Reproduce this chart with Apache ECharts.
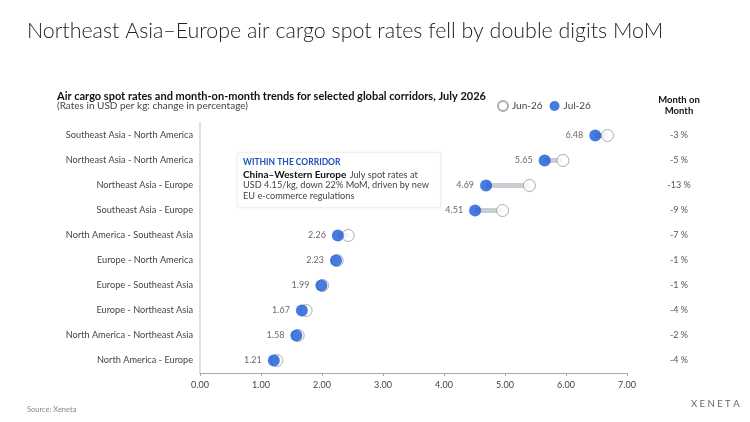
<!DOCTYPE html>
<html><head><meta charset="utf-8">
<script src="https://cdn.jsdelivr.net/npm/echarts@6/dist/echarts.min.js"></script>
<style>html,body{margin:0;padding:0;background:#fff}#c{width:750px;height:422px}</style>
</head><body><div id="c"></div>
<script>
const categories = ["Southeast Asia - North America","Northeast Asia - North America","Northeast Asia - Europe","Southeast Asia - Europe","North America - Southeast Asia","Europe - North America","Europe - Southeast Asia","Europe - Northeast Asia","North America - Northeast Asia","North America - Europe"];
const jun26 = [6.68, 5.95, 5.40, 4.96, 2.43, 2.25, 2.01, 1.74, 1.61, 1.26];
const jul26 = [6.48, 5.65, 4.69, 4.51, 2.26, 2.23, 1.99, 1.67, 1.58, 1.21];
const momLabels = ["-3 %","-5 %","-13 %","-9 %","-7 %","-1 %","-1 %","-4 %","-2 %","-4 %"];
const xTicks = [0,1,2,3,4,5,6,7];

const FONT = "Lato";
const BLUE = "#1a5ad8";
const chart = echarts.init(document.getElementById('c'), null, {renderer:'canvas'});
chart.setOption({
  backgroundColor:'#fff',
  textStyle:{fontFamily:FONT},
  animation:false,
  title:[
    {text:"Northeast Asia\u2013Europe air cargo spot rates fell by double digits MoM", left:27, top:21, padding:0,
     textStyle:{fontFamily:FONT, fontWeight:300, fontSize:21.4, color:'#222'}},
    {text:"Air cargo spot rates and month-on-month trends for selected global corridors, July 2026", left:57, top:91, padding:0,
     textStyle:{fontFamily:FONT, fontWeight:'bold', fontSize:11, color:'#111'}},
    {text:"(Rates in USD per kg: change in percentage)", left:57, top:101, padding:0,
     textStyle:{fontFamily:FONT, fontWeight:'normal', fontSize:10, color:'#444'}},
    {text:"Month on\nMonth", left:679, top:94, padding:0, textAlign:'center',
     textStyle:{fontFamily:FONT, fontWeight:'bold', fontSize:9.5, color:'#111', lineHeight:11, align:'center'}},
    {text:"Source: Xeneta", left:27, top:406, padding:0,
     textStyle:{fontFamily:FONT, fontWeight:'normal', fontSize:7.5, color:'#888'}},
    {text:"X E N E T A", left:691, top:399, padding:0,
     textStyle:{fontFamily:FONT, fontWeight:'normal', fontSize:9.5, color:'#666'}}
  ],
  legend:{
    left:497, top:100, padding:0, itemWidth:10, itemHeight:10, itemGap:7,
    icon:'circle',
    textStyle:{fontFamily:FONT, fontSize:10, color:'#444', padding:[0,0,0,-1]},
    data:[{name:'Jun-26'},{name:'Jul-26'}]
  },
  grid:{left:200, right:123, top:123, bottom:49},
  xAxis:{type:'value', min:0, max:7, interval:1,
    axisLine:{show:true, lineStyle:{color:'#aaa', width:1}},
    axisTick:{show:true, length:3, lineStyle:{color:'#aaa'}},
    splitLine:{show:false},
    axisLabel:{formatter:v=>v.toFixed(2), color:'#444', fontSize:9, margin:8}
  },
  yAxis:[
    {type:'category', data:categories, inverse:true,
     axisLine:{show:true, lineStyle:{color:'#e0e0e0', width:2}},
     axisTick:{show:false},
     axisLabel:{color:'#444', fontSize:9.2, margin:7}
    },
    {type:'category', data:momLabels, inverse:true, position:'right',
     axisLine:{show:false}, axisTick:{show:false},
     axisLabel:{color:'#555', fontSize:9, margin:52, align:'center'}
    }
  ],
  graphic:[
    {type:'rect', left:237, top:152, shape:{width:203, height:55},
     style:{fill:'#fff', stroke:'#f0f0f0', lineWidth:1, shadowBlur:4, shadowColor:'rgba(0,0,0,0.05)'}, z:10},
    {type:'text', left:243, top:158, z:11,
     style:{text:'WITHIN THE CORRIDOR', fill:'#1f4fb8', font:'bold 8.5px '+FONT}},
    {type:'text', left:243, top:169, z:11,
     style:{rich:{b:{fontWeight:'bold', fontSize:10, fill:'#111', fontFamily:FONT}, n:{fontSize:9.2, fill:'#444', fontFamily:FONT}},
            text:'{b|China\u2013Western Europe} {n|July spot rates at}'}},
    {type:'text', left:243, top:181, z:11,
     style:{text:'USD 4.15/kg, down 22% MoM, driven by new', fill:'#444', font:'9.2px '+FONT}},
    {type:'text', left:243, top:192, z:11,
     style:{text:'EU e-commerce regulations', fill:'#444', font:'9.2px '+FONT}}
  ],
  series:[
    {type:'custom', name:'gap', z:1,
     renderItem:function(params, api){
       const a = api.coord([api.value(0), api.value(2)]);
       const b = api.coord([api.value(1), api.value(2)]);
       return {type:'line', shape:{x1:a[0], y1:a[1], x2:b[0], y2:b[1]},
               style:{stroke:'#c9ccd3', lineWidth:5}};
     },
     encode:{x:[0,1], y:2},
     data: categories.map((c,i)=>[jul26[i], jun26[i], i])
    },
    {type:'scatter', name:'Jun-26', z:2, symbol:'circle', symbolSize:12,
     itemStyle:{color:'#fff', borderColor:'#999', borderWidth:1},
     data: categories.map((c,i)=>[jun26[i], i])
    },
    {type:'scatter', name:'Jul-26', z:3, symbol:'circle', symbolSize:12,
     itemStyle:{color:BLUE},
     label:{show:true, position:'left', distance:6, color:'#444', fontSize:9,
            formatter:p=>p.value[0].toFixed(2)},
     data: categories.map((c,i)=>[jul26[i], i])
    }
  ]
});
</script></body></html>
